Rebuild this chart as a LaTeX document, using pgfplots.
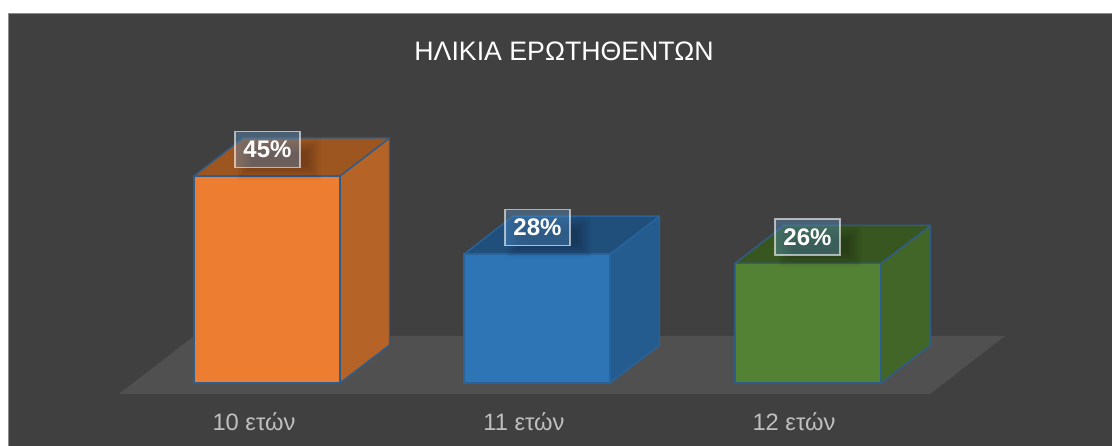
\documentclass[border=0pt]{standalone}
\usepackage{fontspec}
\setmainfont{Liberation Sans}
\usepackage{pgfplots}
\pgfplotsset{compat=1.18}
\definecolor{panel}{HTML}{404040}
\definecolor{panelb}{HTML}{8C8C8C}
\definecolor{floorc}{HTML}{505050}
\definecolor{edgec}{HTML}{2E5D8C}
\definecolor{edgeb}{HTML}{28639C}
\definecolor{ofront}{HTML}{ED7D31}\definecolor{oside}{HTML}{B56326}\definecolor{otop}{HTML}{9E5620}
\definecolor{bfront}{HTML}{2E75B6}\definecolor{bside}{HTML}{255C8F}\definecolor{btop}{HTML}{204F7C}
\definecolor{gfront}{HTML}{548235}\definecolor{gside}{HTML}{426528}\definecolor{gtop}{HTML}{38561F}
\definecolor{labelc}{HTML}{5B9BD5}
\definecolor{tickc}{HTML}{BFBFBF}
% one step of a soft shadow: centre x, bar value, growth in pixels
\newcommand\shstep[3]{\fill[black,opacity=0.03] (axis cs:{#1-22-#3},{#2+(4-#3)/4.6}) rectangle (axis cs:{#1+46+#3},{#2+(30+#3)/4.6});}
\newcommand\shadowat[2]{\shstep{#1}{#2}{8}\shstep{#1}{#2}{6}\shstep{#1}{#2}{4}\shstep{#1}{#2}{2}\shstep{#1}{#2}{0}\shstep{#1}{#2}{-2}\shstep{#1}{#2}{-4}\shstep{#1}{#2}{-6}}
\pgfplotsset{
  front/.style 2 args={ybar,bar width=146pt,bar shift=0pt,fill=#1,draw=#2,line width=1.4pt},
  face/.style 2 args={fill=#1,draw=#2,line width=1.4pt,line join=round,mark=none},
  datalabel/.style={only marks,mark=none,draw=none,point meta=y,
    nodes near coords={\pgfmathprintnumber[assume math mode=true]{\pgfplotspointmeta}\%},
    nodes near coords style={anchor=center,yshift=26.5pt,
      font=\fontsize{24}{27}\selectfont\bfseries,text=white,text opacity=1,
      fill=labelc,fill opacity=0.36,draw=white,draw opacity=0.6,line width=1.3pt,
      minimum width=65pt,minimum height=36pt,inner sep=0pt}},
}
\begin{document}
\begin{tikzpicture}
\begin{axis}[
  axis on top,
  scale only axis,width=1112pt,height=446pt,
  xmin=0,xmax=1112,ymin=-13.696,ymax=83.261,
  axis line style={draw=none},tick style={draw=none},
  ytick=\empty,
  xtick={254,524,794},
  xticklabels={10 ετών,11 ετών,12 ετών},
  xticklabel style={anchor=center,yshift=24pt,text=tickc,font=\fontsize{23.7}{27}\selectfont},
  title={ΗΛΙΚΙΑ ΕΡΩΤΗΘΕΝΤΩΝ},
  title style={at={(axis cs:564,70.9)},anchor=center,text=white,font=\fontsize{26.7}{30}\selectfont},
]
% panel and floor
\addplot[fill=panel,draw=panelb,line width=1.5pt] coordinates {(8.7,-20) (8.7,80.3) (1130,80.3) (1130,-20)} --cycle;
\addplot[fill=floorc,draw=none] coordinates {(119,-2.39) (930,-2.39) (1005,10.22) (194,10.22)} --cycle;
% bar 1: 10 ετών, 45
\addplot[face={oside}{edgec}] coordinates {(340,0) (389.5,8.26) (389.5,53.26) (340,45)} --cycle;
\addplot[face={otop}{edgec}] coordinates {(194,45) (340,45) (389.5,53.26) (243,53.26)} --cycle;
\addplot[front={ofront}{edgec}] coordinates {(267,45)};
% bar 2: 11 ετών, 28
\addplot[face={bside}{edgeb}] coordinates {(610,0) (659.5,8.26) (659.5,36.26) (610,28)} --cycle;
\addplot[face={btop}{edgeb}] coordinates {(464,28) (610,28) (659.5,36.26) (513,36.26)} --cycle;
\addplot[front={bfront}{edgeb}] coordinates {(537,28)};
% bar 3: 12 ετών, 26
\addplot[face={gside}{edgec}] coordinates {(881,0) (930.5,8.26) (930.5,34.26) (881,26)} --cycle;
\addplot[face={gtop}{edgec}] coordinates {(735,26) (881,26) (930.5,34.26) (784,34.26)} --cycle;
\addplot[front={gfront}{edgec}] coordinates {(808,26)};
% label shadows
\shadowat{267}{45}
\shadowat{537}{28}
\shadowat{808}{26}
% data labels
\addplot[datalabel] coordinates {(267.5,45)};
\addplot[datalabel] coordinates {(537.5,28)};
\addplot[datalabel] coordinates {(807.5,26)};
\end{axis}
\end{tikzpicture}
\end{document}
